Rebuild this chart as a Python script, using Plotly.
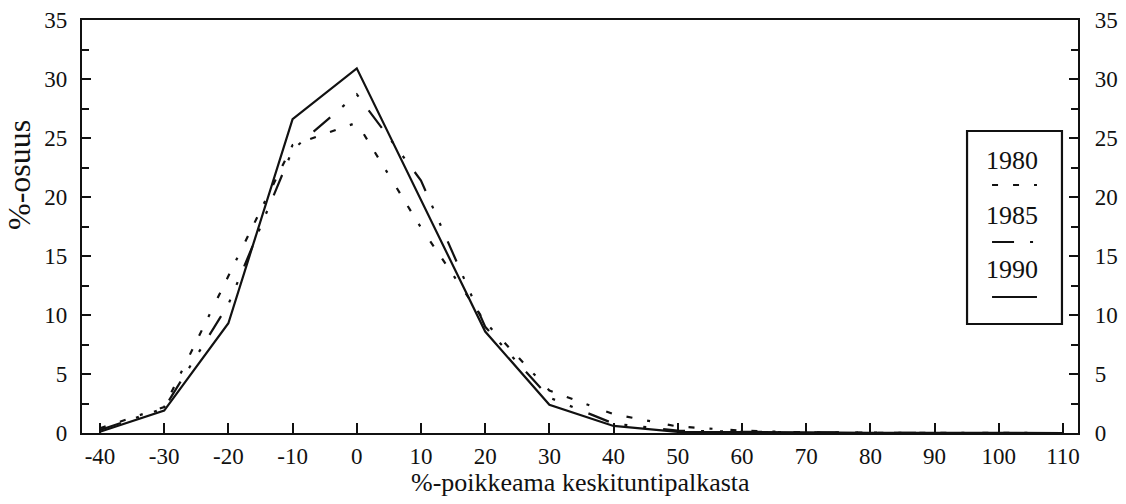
import plotly.graph_objects as go

# Data
x_vals = [-40, -30, -20, -10, 0, 10, 20, 30, 40, 50, 60, 70, 80, 90, 100, 110]
y1980 = [0.4, 2.2, 13.3, 24.4, 26.3, 17.4, 9.4, 3.6, 1.6, 0.55, 0.2, 0.05, 0.02, 0, 0, 0]
y1985 = [0.25, 2.1, 10.9, 24.0, 28.7, 21.4, 9.0, 3.0, 0.8, 0.2, 0.1, 0.05, 0.02, 0, 0, 0]
y1990 = [0.1, 1.9, 9.3, 26.6, 30.9, 19.8, 8.6, 2.4, 0.6, 0.1, 0.1, 0.05, 0.02, 0, 0, 0]
series_names = ["1980", "1985", "1990"]
x_ticks = list(range(-40, 111, 10))
x_tick_labels = [str(v) for v in x_ticks]  # plain hyphen minus, as in the reference
y_ticks = list(range(0, 36, 5))

FONT = "Liberation Serif"
INK = "#111111"
dashes = {
    "1980": "6px,15px,6px,15px,3px,18px",
    "1985": "22px,16px,3px,16px,3px,17px",
    "1990": "solid",
}

fig = go.Figure()
for name, ys in zip(series_names, [y1980, y1985, y1990]):
    fig.add_trace(go.Scatter(
        x=x_vals, y=ys, mode="lines", name=name,
        line=dict(color=INK, width=2.2, dash=dashes[name]),
        showlegend=False,
    ))
# invisible trace on the right axis so it renders
fig.add_trace(go.Scatter(x=[x_vals[0]], y=[0], yaxis="y2", mode="lines",
                         line=dict(width=0), showlegend=False, hoverinfo="skip"))

axis_common = dict(
    showgrid=False, zeroline=False, showline=True, linecolor=INK, linewidth=2.2,
    ticks="inside", tickcolor=INK, tickwidth=1.8, automargin=False,
    tickfont=dict(family=FONT, size=23, color=INK),
)

fig.update_layout(
    width=1126, height=504,
    margin=dict(l=82, r=48, t=20, b=71),
    paper_bgcolor="white", plot_bgcolor="white",
    xaxis=dict(
        range=[-42.8, 112.34], tickvals=x_ticks, ticktext=x_tick_labels, ticklen=10,
        mirror=True, ticklabelstandoff=1, **axis_common,
    ),
    yaxis=dict(
        range=[0, 35], tickvals=y_ticks, ticklen=9,
        minor=dict(dtick=2.5, ticks="inside", ticklen=7, tickcolor=INK, tickwidth=1.5, showgrid=False),
        ticklabelstandoff=8, **axis_common,
    ),
    yaxis2=dict(
        range=[0, 35], tickvals=y_ticks, ticklen=9, overlaying="y", side="right",
        minor=dict(dtick=2.5, ticks="inside", ticklen=7, tickcolor=INK, tickwidth=1.5, showgrid=False),
        ticklabelstandoff=10, **axis_common,
    ),
    font=dict(family=FONT, color=INK),
)

# Axis titles
fig.add_annotation(text="%-poikkeama keskituntipalkasta", xref="paper", yref="paper",
                   x=0.5, y=-0.121, xanchor="center", yanchor="middle", showarrow=False,
                   font=dict(family=FONT, size=26, color=INK))
fig.add_annotation(text="%-osuus", xref="paper", yref="paper", textangle=-90,
                   x=-0.0633, y=0.6247, xanchor="center", yanchor="middle", showarrow=False,
                   font=dict(family=FONT, size=32, color=INK))

# Custom legend box (text above line sample)
fig.add_shape(type="rect", xref="paper", yref="paper", x0=0.8886, x1=0.9839, y0=0.2639, y1=0.7312,
              line=dict(color=INK, width=2.2), fillcolor="white", layer="above")
leg_text_y = [0.661, 0.5278, 0.3947]
leg_line_y = [0.6005, 0.4625, 0.3293]
for name, ty, ly in zip(series_names, leg_text_y, leg_line_y):
    fig.add_annotation(text=name, xref="paper", yref="paper", x=0.9337, y=ty,
                       xanchor="center", yanchor="middle", showarrow=False,
                       font=dict(family=FONT, size=26, color=INK))
    fig.add_shape(type="line", xref="paper", yref="paper", x0=0.9137, x1=0.9588, y0=ly, y1=ly,
                  line=dict(color=INK, width=2.2, dash=dashes[name]), layer="above")

fig.write_html("out.html", config={"displayModeBar": False},
               post_script="document.body.style.margin='0';document.body.style.overflow='hidden';")
